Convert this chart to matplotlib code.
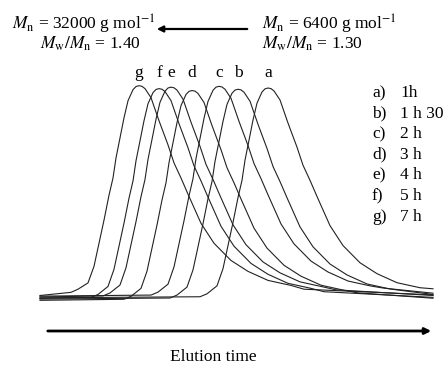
import matplotlib
matplotlib.use("Agg")
from matplotlib import pyplot as plt

plt.rcParams['font.family'] = ['Liberation Serif', 'DejaVu Serif']
plt.rcParams['mathtext.fontset'] = 'stix'

# elution time (arbitrary units) and normalised RI signal
labels = ['a', 'b', 'c', 'd', 'e', 'f', 'g']
times = ['1h', '1 h 30', '2 h', '3 h', '4 h', '5 h', '7 h']

x_a = [40, 200, 207, 217, 223, 228, 233, 238, 242, 245, 249, 253, 257, 262, 265, 268, 271, 274, 280, 288, 297, 303, 310, 317, 330, 343, 360, 377, 397, 420, 433]
x_b = [40, 170, 177, 187, 193, 198, 203, 208, 212, 215, 219, 223, 227, 232, 235, 238, 241, 244, 250, 258, 267, 273, 280, 287, 300, 313, 330, 347, 367, 390, 403, 433]
x_c = [40, 151, 158, 168, 174, 179, 184, 189, 193, 196, 200, 204, 208, 213, 216, 219, 222, 225, 231, 239, 248, 254, 261, 268, 281, 294, 311, 328, 348, 371, 384, 433]
x_d = [40, 124, 131, 141, 147, 152, 157, 162, 166, 169, 173, 177, 181, 186, 189, 192, 195, 198, 204, 212, 221, 227, 234, 241, 254, 267, 284, 301, 321, 344, 357, 433]
x_e = [40, 103, 110, 120, 126, 131, 136, 141, 145, 148, 152, 156, 160, 165, 168, 171, 174, 177, 183, 191, 200, 206, 213, 220, 233, 246, 263, 280, 300, 323, 336, 433]
x_f = [40, 91, 98, 108, 114, 119, 124, 129, 133, 136, 140, 144, 148, 153, 156, 159, 162, 165, 171, 179, 188, 194, 201, 208, 221, 234, 251, 268, 288, 311, 324, 433]
x_g = [40, 71, 78, 88, 94, 99, 104, 109, 113, 116, 120, 124, 128, 133, 136, 139, 142, 145, 151, 159, 168, 174, 181, 188, 201, 214, 231, 248, 268, 291, 304, 433]

y_a = [0, .005, .019, .057, .139, .249, .359, .478, .560, .656, .751, .847, .928, .981, .996, 1.0, .997, .986, .943, .833, .718, .632, .560, .483, .344, .249, .167, .115, .072, .048, .043]
y_b = [0, .005, .019, .057, .139, .249, .359, .478, .560, .656, .751, .847, .928, .981, .996, 1.0, .997, .986, .943, .833, .718, .632, .560, .483, .344, .249, .167, .115, .072, .048, .040, .022]
y_c = [0, .005, .019, .057, .139, .249, .359, .478, .560, .656, .751, .847, .928, .981, .996, 1.0, .997, .986, .943, .833, .718, .632, .560, .483, .344, .249, .167, .115, .072, .048, .038, .014]
y_d = [0, .005, .019, .057, .139, .249, .359, .478, .560, .656, .751, .847, .928, .981, .996, 1.0, .997, .986, .943, .833, .718, .632, .560, .483, .344, .249, .167, .115, .072, .048, .036, .010]
y_e = [0, .005, .019, .057, .139, .249, .359, .478, .560, .656, .751, .847, .928, .981, .996, 1.0, .997, .986, .943, .833, .718, .632, .560, .483, .344, .249, .167, .115, .072, .048, .034, .007]
y_f = [0, .005, .019, .057, .139, .249, .359, .478, .560, .656, .751, .847, .928, .981, .996, 1.0, .997, .986, .943, .833, .718, .632, .560, .483, .344, .249, .167, .115, .072, .048, .032, .005]
y_g = [0, .015, .030, .060, .139, .249, .359, .478, .560, .656, .751, .847, .928, .981, .996, 1.0, .997, .986, .943, .833, .718, .632, .560, .483, .344, .249, .167, .115, .072, .048, .030, .003]

baseline = [0.0, -0.006, 0.008, -0.012, 0.004, -0.003, 0.011]

xs = [x_a, x_b, x_c, x_d, x_e, x_f, x_g]
ys = [y_a, y_b, y_c, y_d, y_e, y_f, y_g]

W, H = 446, 369
fig = plt.figure(figsize=(W / 100, H / 100), dpi=100)
ax = fig.add_axes([40 / W, (H - 302) / H, 393 / W, 214 / H])
ax.set_xlim(40, 433)
ax.set_ylim(-0.02, 1.0)
ax.axis('off')

for x, y, b, lab in zip(xs, ys, baseline, labels):
    ax.plot(x, [v + b for v in y], color='#222222', lw=0.8, clip_on=False)
    pk = x[y.index(max(y))]
    ax.text(pk, 1.035, lab, ha='center', va='bottom', fontsize=12.5)

# legend block
for i, (lab, t) in enumerate(zip(labels, times)):
    yy = 1 - (93 + i * 20.6) / H
    fig.text(372 / W, yy, lab + ')', ha='left', va='center', fontsize=12.5)
    fig.text(400 / W, yy, t, ha='left', va='center', fontsize=12.5)

# molar mass annotations
fig.text(12 / W, 1 - 24 / H, r'$M_\mathrm{n}$ = 32000 g mol$^{\mathrm{-1}}$', ha='left', va='center', fontsize=12.5)
fig.text(40 / W, 1 - 44 / H, r'$M_\mathrm{w}/M_\mathrm{n}$ = 1.40', ha='left', va='center', fontsize=12.5)
fig.text(262 / W, 1 - 24 / H, r'$M_\mathrm{n}$ = 6400 g mol$^{\mathrm{-1}}$', ha='left', va='center', fontsize=12.5)
fig.text(262 / W, 1 - 44 / H, r'$M_\mathrm{w}/M_\mathrm{n}$ = 1.30', ha='left', va='center', fontsize=12.5)
fig.add_artist(matplotlib.patches.FancyArrowPatch((250 / W, 1 - 29 / H), (154 / W, 1 - 29 / H),
               transform=fig.transFigure, arrowstyle='-|>', mutation_scale=9, lw=1.6, color='black'))

# elution time axis arrow
fig.add_artist(matplotlib.patches.FancyArrowPatch((45 / W, 1 - 331 / H), (434 / W, 1 - 331 / H),
               transform=fig.transFigure, arrowstyle='-|>', mutation_scale=9, lw=2, color='black'))
fig.text(213 / W, 1 - 357 / H, 'Elution time', ha='center', va='center', fontsize=12.5)

fig.savefig('out.png', dpi=100)
